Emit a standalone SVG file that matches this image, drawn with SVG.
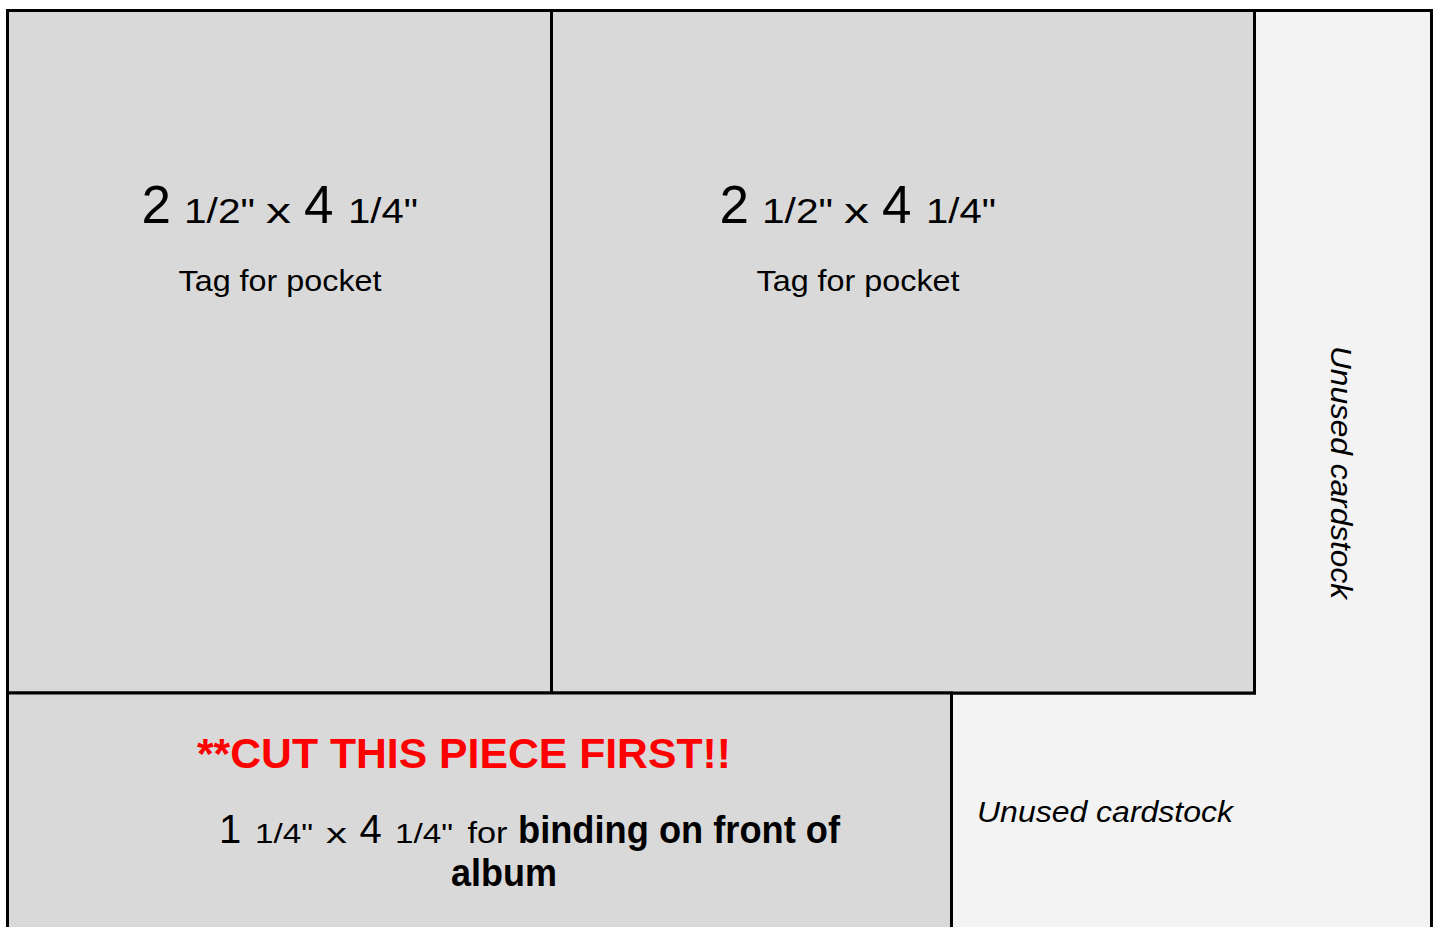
<svg xmlns="http://www.w3.org/2000/svg" width="1438" height="927" viewBox="0 0 1438 927">
<style>
.box{stroke:#000;stroke-width:3;}
.tag{fill:#d9d9d9;}
.unused{fill:#f3f3f3;}
text{font-family:"Liberation Sans",Arial,Helvetica,sans-serif;fill:#000;}
.big{font-size:53px;}
.sm{font-size:35px;}
.lbl{font-size:29px;}
.it{font-style:italic;font-size:29px;}
.red{fill:#ff0000;font-weight:bold;font-size:43px;}
.b{font-weight:bold;font-size:38px;}
</style>
<rect x="0" y="0" width="1438" height="927" fill="#ffffff"/>
<g id="unused-area">
<path class="box unused" d="M1254.5,10.5 H1431.5 V945 H951.5 V693 H1254.5 Z"/>
<text class="it" x="977" y="821.5" textLength="256" lengthAdjust="spacingAndGlyphs">Unused cardstock</text>
<text class="it" transform="translate(1331,346) rotate(90)" x="0" y="0" textLength="253" lengthAdjust="spacingAndGlyphs">Unused cardstock</text>
</g>
<g id="tag1">
<rect class="box tag" x="7.5" y="10.5" width="544" height="682.5"/>
<text y="223"><tspan class="big" x="141.5">2</tspan> <tspan class="sm" x="184" textLength="71" lengthAdjust="spacingAndGlyphs">1/2"</tspan> <tspan class="sm" x="266" textLength="25" lengthAdjust="spacingAndGlyphs">x</tspan> <tspan class="big" x="304">4</tspan> <tspan class="sm" x="348" textLength="70" lengthAdjust="spacingAndGlyphs">1/4"</tspan></text>
<text class="lbl" x="178.5" y="291" textLength="203" lengthAdjust="spacingAndGlyphs">Tag for pocket</text>
</g>
<g id="tag2">
<rect class="box tag" x="551.5" y="10.5" width="703" height="682.5"/>
<text y="223"><tspan class="big" x="719.5">2</tspan> <tspan class="sm" x="762" textLength="71" lengthAdjust="spacingAndGlyphs">1/2"</tspan> <tspan class="sm" x="844" textLength="25" lengthAdjust="spacingAndGlyphs">x</tspan> <tspan class="big" x="882">4</tspan> <tspan class="sm" x="926" textLength="70" lengthAdjust="spacingAndGlyphs">1/4"</tspan></text>
<text class="lbl" x="756.5" y="291" textLength="203" lengthAdjust="spacingAndGlyphs">Tag for pocket</text>
</g>
<g id="binding-piece">
<rect class="box tag" x="7.5" y="693" width="944" height="260"/>
<text class="red" x="197" y="767.5" textLength="534" lengthAdjust="spacingAndGlyphs">**CUT THIS PIECE FIRST!!</text>
<text y="843"><tspan x="219" font-size="40">1</tspan> <tspan x="255" font-size="28" textLength="58" lengthAdjust="spacingAndGlyphs">1/4"</tspan> <tspan x="326" font-size="28" textLength="21" lengthAdjust="spacingAndGlyphs">x</tspan> <tspan x="359.5" font-size="40">4</tspan> <tspan x="395" font-size="28" textLength="58" lengthAdjust="spacingAndGlyphs">1/4"</tspan> <tspan x="467.5" font-size="29" textLength="40" lengthAdjust="spacingAndGlyphs">for</tspan> <tspan class="b" x="518" textLength="322" lengthAdjust="spacingAndGlyphs">binding on front of</tspan></text>
<text class="b" x="451" y="886" textLength="106" lengthAdjust="spacingAndGlyphs">album</text>
</g>
</svg>
